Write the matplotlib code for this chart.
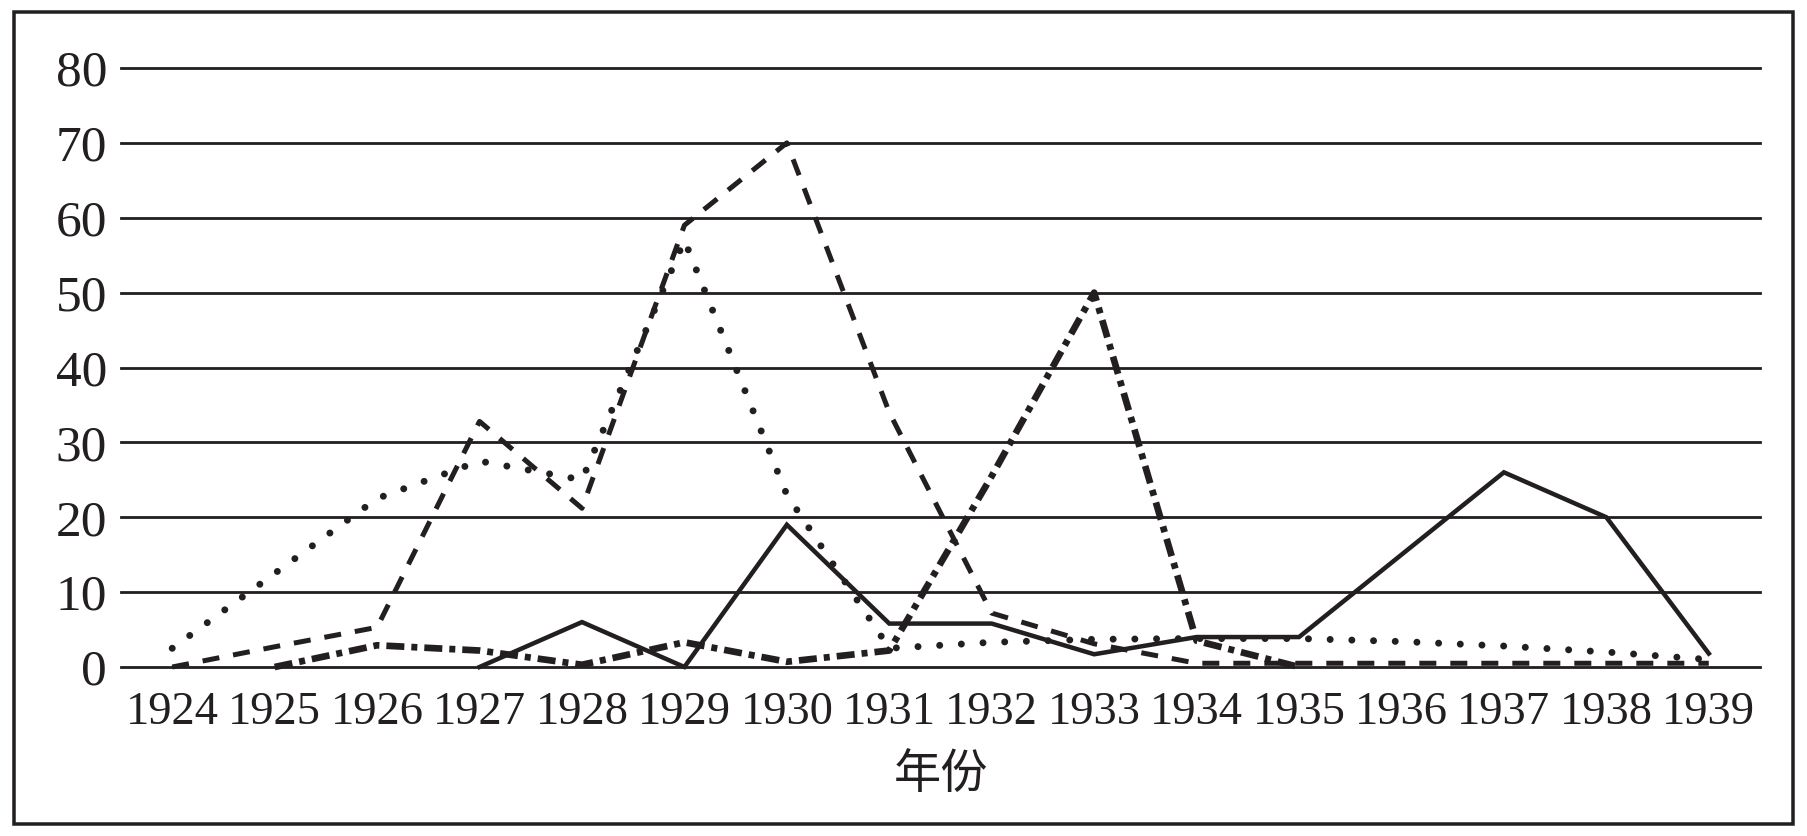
import numpy as np
import matplotlib
matplotlib.use("Agg")
import matplotlib.pyplot as plt
from matplotlib.patches import Rectangle

plt.rcParams['font.family'] = ['Liberation Serif', 'Noto Sans CJK SC']
plt.rcParams['lines.scale_dashes'] = False

years = [str(y) for y in range(1924, 1940)]
yticks = [0, 10, 20, 30, 40, 50, 60, 70, 80]
xlabel = "年份"
nan = np.nan

# series values (index 0 = 1924)
dotted_vals  = [2.5, 12.5, 22.5, 27.5, 25, 57, 23, 2.5, 3.3, 3.7, 3.8, 3.8, 3.4, 2.8, 2.0, 1.0]
dashed_vals  = [0, 2.7, 5.3, 32.8, 21.2, 59, 70, 34, 7.2, 3.1, 0.5, 0.5, 0.5, 0.5, 0.5, 0.5]
dashdot_vals = [nan, 0, 2.9, 2.2, 0.3, 3.3, 0.7, 2.2, 25.5, 50, 3.5, 0, nan, nan, nan, nan]
solid_vals   = [nan, nan, nan, 0, 6, 0, 19, 5.8, 5.8, 1.7, 4.0, 4.0, 15, 26, 20, 1.8]

INK = '#231f20'
PX = 72 / 100.0  # points per pixel at dpi 100

fig = plt.figure(figsize=(18.07, 8.36), dpi=100)
ax = fig.add_axes([121 / 1807, 1 - 667 / 836, (1760 - 121) / 1807, (667 - 68) / 836])

x = np.arange(len(years))

ax.plot(x, dotted_vals, color=INK, lw=7 * PX, dashes=(0.001, 21.7 * PX),
        dash_capstyle='round', clip_on=False, zorder=3)
ax.plot(x, dashed_vals, color=INK, lw=5 * PX, dashes=(17 * PX, 14 * PX),
        dash_capstyle='butt', solid_joinstyle='miter', clip_on=False, zorder=3)
ax.plot(x, dashdot_vals, color=INK, lw=6.7 * PX,
        dashes=(18 * PX, 7 * PX, 6 * PX, 7 * PX),
        dash_capstyle='butt', clip_on=False, zorder=3)
ax.plot(x, solid_vals, color=INK, lw=4.5 * PX, solid_joinstyle='miter',
        clip_on=False, zorder=3)

ax.set_xlim(-0.5, len(years) - 0.5)
ax.set_ylim(0, 80)
ax.set_xticks(x)
ax.set_xticklabels(years)
ax.set_yticks(yticks)
ax.set_yticklabels([str(v) for v in yticks])

for s in ax.spines.values():
    s.set_visible(False)
ax.yaxis.grid(True, color=INK, lw=2.8 * PX)
ax.xaxis.grid(False)
for gl in ax.get_ygridlines():
    gl.set_clip_on(False)
ax.set_axisbelow(True)

ax.tick_params(axis='both', length=0, colors=INK)
ax.tick_params(axis='y', labelsize=37, pad=10)
ax.tick_params(axis='x', labelsize=33.5, pad=18)

ax.set_xlabel(xlabel, fontsize=34, family=['Noto Sans CJK SC'], color=INK)
ax.xaxis.label.set_va('center')
ax.xaxis.set_label_coords(0.5, (667 - 775) / 599.0)

fig.add_artist(Rectangle((14 / 1807, 1 - 824 / 836), (1793 - 14) / 1807, (824 - 12) / 836,
                         transform=fig.transFigure, fill=False, edgecolor=INK,
                         lw=3.5 * PX))

fig.savefig("out.png", dpi=100, facecolor='white')
